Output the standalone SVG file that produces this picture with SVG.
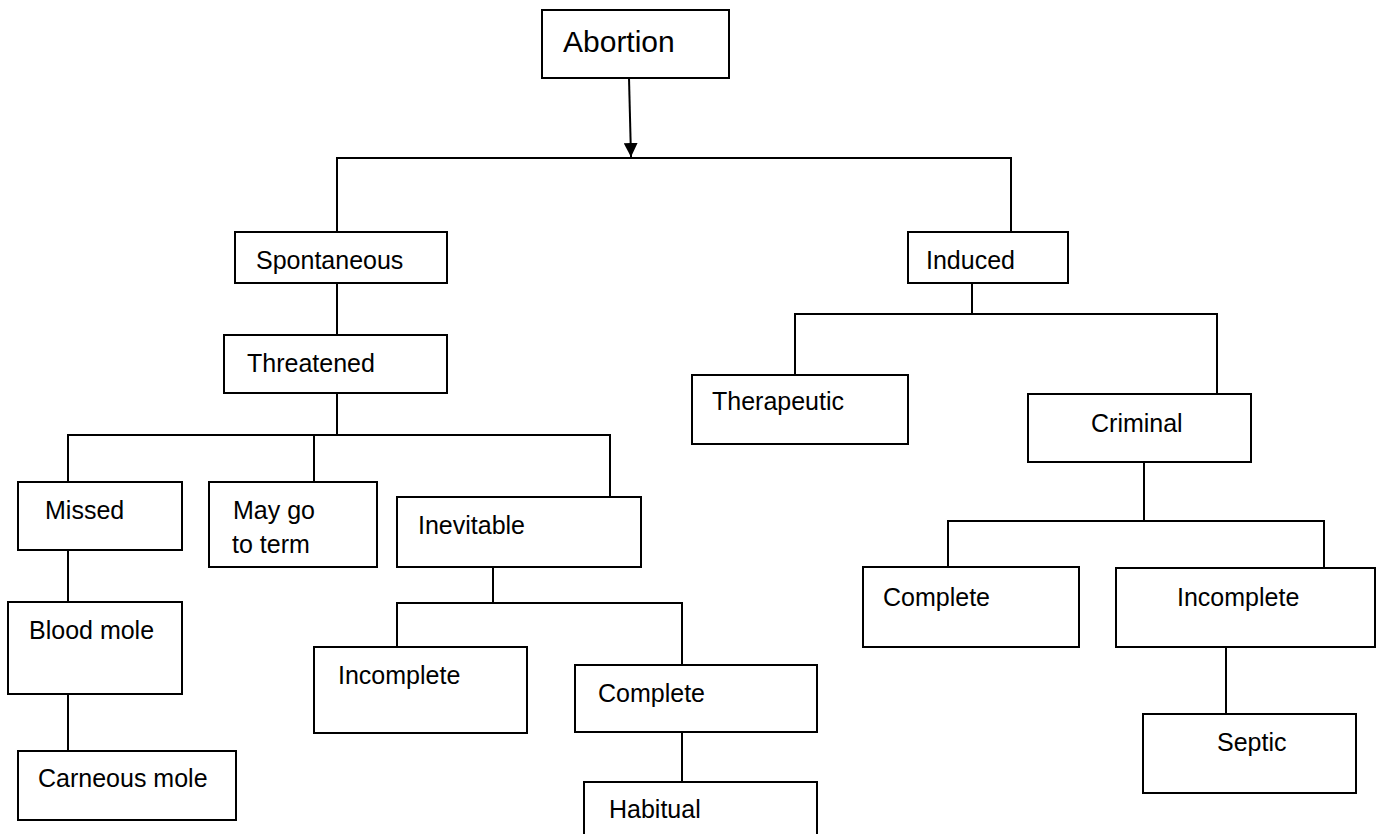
<svg xmlns="http://www.w3.org/2000/svg" width="1396" height="834" viewBox="0 0 1396 834">
<style>
.box{fill:#fff;stroke:#000;stroke-width:2}
#connectors path,#connectors line{fill:none;stroke:#000;stroke-width:2}
text{font-family:"Liberation Sans",Arial,sans-serif;font-size:25px;fill:#000}
</style>
<defs>
<marker id="arr" viewBox="0 0 10 10" refX="10" refY="5" markerWidth="7" markerHeight="7" markerUnits="strokeWidth" orient="auto"><path d="M0,0 L10,5 L0,10 Z" fill="#000"/></marker>
</defs>
<rect x="0" y="0" width="1396" height="834" fill="#fff"/>
<g id="connectors">
<line x1="629" y1="78" x2="631" y2="157" marker-end="url(#arr)"/>
<path d="M337,232 V158 H1011 V232"/>
<path d="M337,283 V335"/>
<path d="M337,393 V435"/>
<path d="M68,482 V435 H610 V497"/>
<path d="M314,435 V482"/>
<path d="M68,550 V602"/>
<path d="M68,694 V751"/>
<path d="M493,567 V603"/>
<path d="M397,647 V603 H682 V665"/>
<path d="M682,732 V782"/>
<path d="M972,283 V314"/>
<path d="M795,375 V314 H1217 V394"/>
<path d="M1144,462 V521"/>
<path d="M948,567 V521 H1324 V568"/>
<path d="M1226,647 V714"/>
</g>
<g id="abortion"><rect class="box" x="542" y="10" width="187" height="68"/><text x="563" y="52" style="font-size:30px">Abortion</text></g>
<g id="spontaneous"><rect class="box" x="235" y="232" width="212" height="51"/><text x="256" y="269">Spontaneous</text></g>
<g id="threatened"><rect class="box" x="224" y="335" width="223" height="58"/><text x="247" y="372">Threatened</text></g>
<g id="missed"><rect class="box" x="18" y="482" width="164" height="68"/><text x="45" y="519">Missed</text></g>
<g id="maygo"><rect class="box" x="209" y="482" width="168" height="85"/><text x="233" y="519">May go</text><text x="232" y="553">to term</text></g>
<g id="inevitable"><rect class="box" x="397" y="497" width="244" height="70"/><text x="418" y="534">Inevitable</text></g>
<g id="bloodmole"><rect class="box" x="8" y="602" width="174" height="92"/><text x="29" y="639">Blood mole</text></g>
<g id="carneous"><rect class="box" x="18" y="751" width="218" height="69"/><text x="38" y="787">Carneous mole</text></g>
<g id="incomplete-s"><rect class="box" x="314" y="647" width="213" height="86"/><text x="338" y="684">Incomplete</text></g>
<g id="complete-s"><rect class="box" x="575" y="665" width="242" height="67"/><text x="598" y="702">Complete</text></g>
<g id="habitual"><rect class="box" x="584" y="782" width="233" height="70"/><text x="609" y="818">Habitual</text></g>
<g id="induced"><rect class="box" x="908" y="232" width="160" height="51"/><text x="926" y="269">Induced</text></g>
<g id="therapeutic"><rect class="box" x="692" y="375" width="216" height="69"/><text x="712" y="410">Therapeutic</text></g>
<g id="criminal"><rect class="box" x="1028" y="394" width="223" height="68"/><text x="1091" y="432">Criminal</text></g>
<g id="complete-i"><rect class="box" x="863" y="567" width="216" height="80"/><text x="883" y="606">Complete</text></g>
<g id="incomplete-i"><rect class="box" x="1116" y="568" width="259" height="79"/><text x="1177" y="606">Incomplete</text></g>
<g id="septic"><rect class="box" x="1143" y="714" width="213" height="79"/><text x="1217" y="751">Septic</text></g>
</svg>
